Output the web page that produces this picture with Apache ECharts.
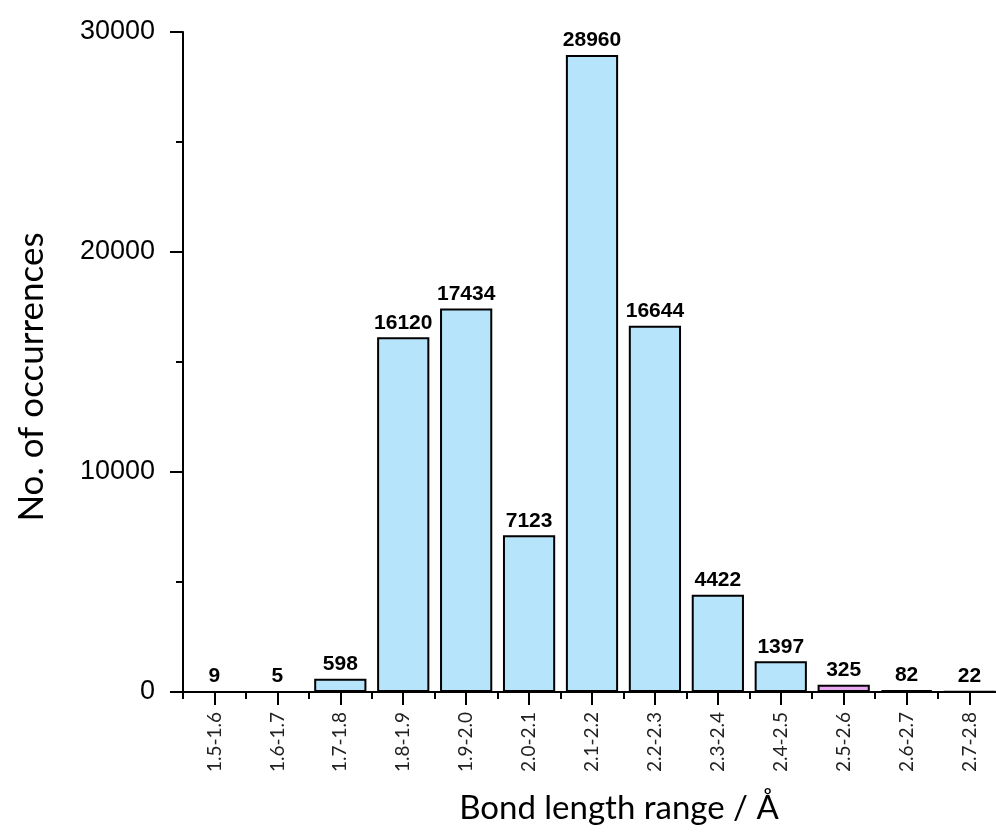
<!DOCTYPE html>
<html>
<head>
<meta charset="utf-8">
<script src="https://cdn.jsdelivr.net/npm/echarts@6/dist/echarts.min.js"></script>
<style>html,body{margin:0;padding:0;background:#fff;}#c{width:996px;height:835px;}</style>
</head>
<body>
<div id="c"></div>
<script>
const categories = ['1.5-1.6','1.6-1.7','1.7-1.8','1.8-1.9','1.9-2.0','2.0-2.1','2.1-2.2','2.2-2.3','2.3-2.4','2.4-2.5','2.5-2.6','2.6-2.7','2.7-2.8'];
const counts = [9, 5, 598, 16120, 17434, 7123, 28960, 16644, 4422, 1397, 325, 82, 22];
const yTicks = [0, 10000, 20000, 30000];
const highlightCategory = '2.5-2.6';
const xTitle = 'Bond length range / Å';
const yTitle = 'No. of occurrences';

const chart = echarts.init(document.getElementById('c'), null, {renderer: 'canvas'});
const data = counts.map((v, i) => ({
  value: v,
  itemStyle: categories[i] === highlightCategory ? {color: '#e9a8f2'} : undefined
}));
chart.setOption({
  animation: false,
  backgroundColor: '#ffffff',
  grid: {left: 183, right: -5, top: 32, bottom: 143, containLabel: false, outerBoundsMode: 'none'},
  xAxis: [{
    type: 'category',
    data: categories,
    position: 'bottom',
    offset: 0,
    boundaryGap: true,
    axisLine: {lineStyle: {color: '#000', width: 2}},
    axisTick: {show: true, alignWithLabel: true, interval: 0, length: 13, lineStyle: {color: '#000', width: 2}},
    axisLabel: {rotate: 90, margin: 20, fontFamily: 'Lato', fontSize: 19, color: '#222', interval: 0}
  }, {
    type: 'value',
    min: 0,
    max: categories.length,
    interval: 1,
    position: 'bottom',
    offset: 0,
    gridIndex: 0,
    axisLine: {show: false},
    splitLine: {show: false},
    axisTick: {show: true, length: 7, lineStyle: {color: '#000', width: 2}},
    axisLabel: {show: false}
  }],
  yAxis: {
    type: 'value',
    min: 0,
    max: 30000,
    interval: 10000,
    axisLine: {show: true, lineStyle: {color: '#000', width: 2}},
    axisTick: {show: true, length: 13, lineStyle: {color: '#000', width: 2}},
    minorTick: {show: true, splitNumber: 2, length: 7, lineStyle: {color: '#000', width: 2}},
    splitLine: {show: false},
    axisLabel: {
      margin: 28, fontFamily: 'Liberation Sans', fontSize: 27, color: '#000',
      formatter: v => yTicks.includes(v) ? String(v) : ''
    }
  },
  graphic: [{
    type: 'text', x: 619, y: 808,
    style: {text: xTitle, font: '33px Lato', fill: '#000', textAlign: 'center', textVerticalAlign: 'middle'}
  }, {
    type: 'text', x: 32, y: 377, rotation: Math.PI / 2,
    style: {text: yTitle, font: '35px Lato', fill: '#000', textAlign: 'center', textVerticalAlign: 'middle'}
  }],
  series: [{
    type: 'bar',
    data: data,
    xAxisIndex: 0,
    barCategoryGap: '17%',
    itemStyle: {color: '#b5e4fb', borderColor: '#000', borderWidth: 2},
    label: {
      show: true, position: 'top', distance: 4,
      fontFamily: 'Liberation Sans', fontWeight: 'bold', fontSize: 21, color: '#000'
    }
  }]
});
</script>
</body>
</html>
